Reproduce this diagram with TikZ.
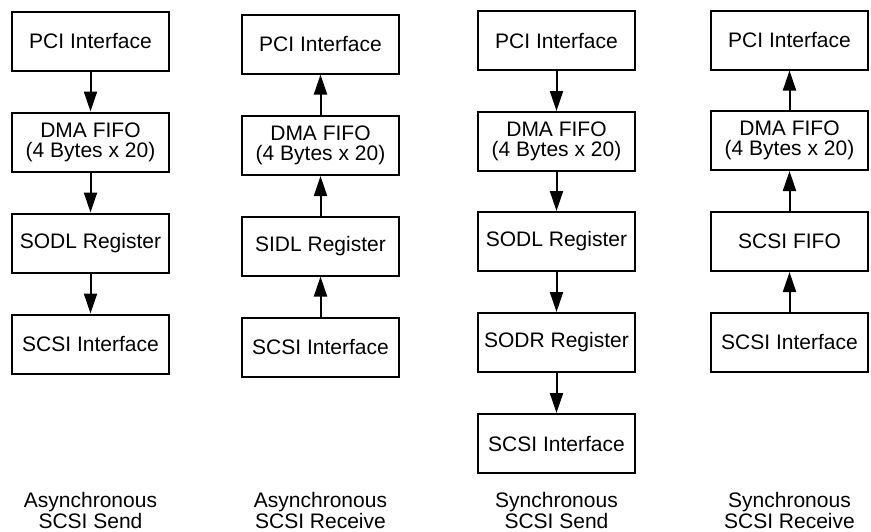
\documentclass[tikz,border=0pt]{standalone}
\usepackage{fontspec}
\setmainfont{Liberation Sans}
\usetikzlibrary{arrows.meta}

\begin{document}
\begin{tikzpicture}[x=1pt,y=-1pt]
\tikzstyle{block}=[draw,line width=2pt,minimum width=157pt,minimum height=59pt,align=center,inner sep=0pt,font=\fontsize{21}{20}\selectfont]
\tikzstyle{caption}=[align=center,anchor=base,inner sep=0pt,font=\fontsize{21}{18.5}\selectfont]
\useasboundingbox (0,0) rectangle (871,531);
\node[block] (a1) at (90.5,41) {PCI Interface};
\node[block] (a2) at (90.5,142) {DMA FIFO\\(4 Bytes x 20)};
\node[block] (a3) at (90.5,243) {SODL Register};
\node[block] (a4) at (90.5,344) {SCSI Interface};
\node[block] (b1) at (320.5,44) {PCI Interface};
\node[block] (b2) at (320.5,145.5) {DMA FIFO\\(4 Bytes x 20)};
\node[block] (b3) at (320.5,246) {SIDL Register};
\node[block] (b4) at (320.5,347) {SCSI Interface};
\node[block] (c1) at (556.5,40.5) {PCI Interface};
\node[block] (c2) at (556.5,141.5) {DMA FIFO\\(4 Bytes x 20)};
\node[block] (c3) at (556.5,241.5) {SODL Register};
\node[block] (c4) at (556.5,342.5) {SODR Register};
\node[block] (c5) at (556.5,443.5) {SCSI Interface};
\node[block] (d1) at (789.5,40) {PCI Interface};
\node[block] (d2) at (789.5,140.5) {DMA FIFO\\(4 Bytes x 20)};
\node[block] (d3) at (789.5,241.5) {SCSI FIFO};
\node[block] (d4) at (789.5,342) {SCSI Interface};
\node[caption] (ta) at (90.5,528) {Asynchronous\\SCSI Send};
\node[caption] (tb) at (320.5,528) {Asynchronous\\SCSI Receive};
\node[caption] (tc) at (556.5,528) {Synchronous\\SCSI Send};
\node[caption] (td) at (789.5,528) {Synchronous\\SCSI Receive};
\foreach \from/\to in {a1/a2, a2/a3, a3/a4, b4/b3, b3/b2, b2/b1, c1/c2, c2/c3, c3/c4, c4/c5, d4/d3, d3/d2, d2/d1}
    \draw [-{Triangle[length=20pt,width=13pt]},line width=2pt] (\from) -- (\to);
\end{tikzpicture}
\end{document}
